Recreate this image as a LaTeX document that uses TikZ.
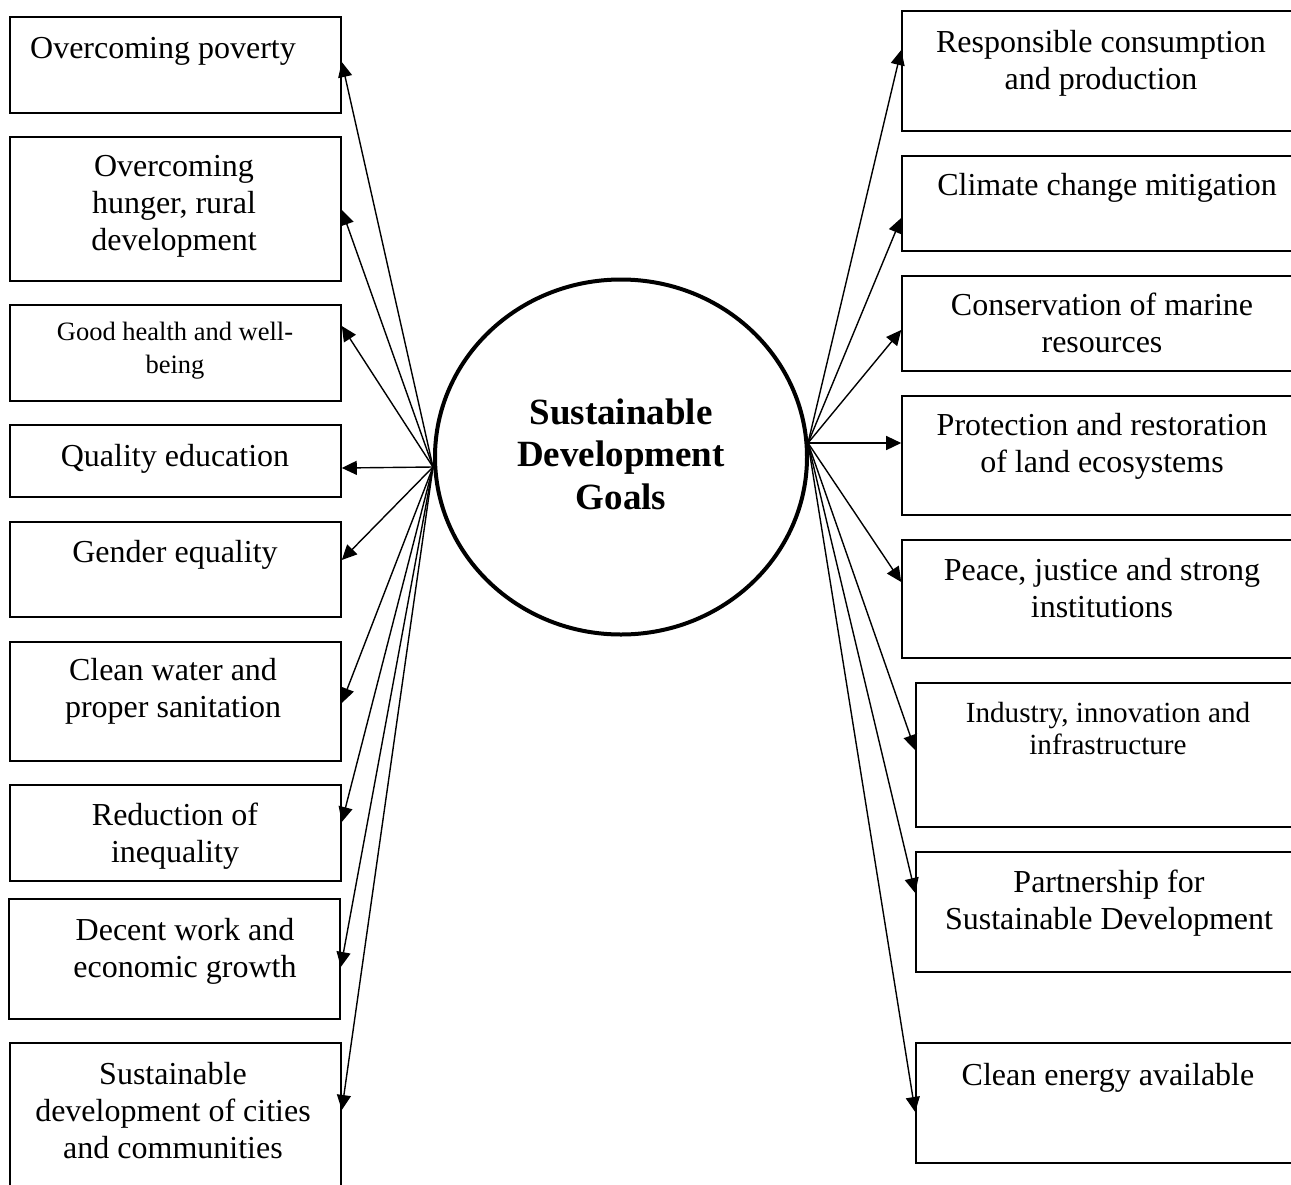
\documentclass[tikz,border=0pt]{standalone}
\usepackage{fontspec}
\setmainfont{Liberation Serif}
\usetikzlibrary{arrows.meta,shapes.geometric}
\begin{document}
\begin{tikzpicture}[x=0.5pt,y=-0.5pt,
  goalbox/.style={draw, line width=0.8pt, rectangle, inner sep=0pt},
  lbl/.style={anchor=north, align=center, inner sep=0pt, font=\fontsize{16}{18.5}\selectfont},
  lblsmall/.style={lbl, font=\fontsize{13.25}{16.5}\selectfont},
  lblmid/.style={lbl, font=\fontsize{14.6}{16}\selectfont},
  conn/.style={line width=0.7pt, -{Triangle[length=7.5pt,width=7pt]}},
  hub/.style={draw, ellipse, line width=2pt, inner sep=0pt, minimum width=186pt, minimum height=177.5pt}
]
\useasboundingbox (0,0) rectangle (1291,1184);

% centre
\node[hub] (c) at (621,457) {};
\node[anchor=north, align=center, inner sep=0pt, font=\fontsize{18.5}{21.25}\selectfont\bfseries] (title) at (621,398) {Sustainable\\Development\\Goals};
\coordinate (sl) at (433,467);
\coordinate (sr) at (808,443);

% left boxes
\node[goalbox, minimum width=165.5pt, minimum height=48pt] (l1) at (175.5,65) {};
\node[goalbox, minimum width=165.5pt, minimum height=72pt] (l2) at (175.5,209) {};
\node[goalbox, minimum width=165.5pt, minimum height=48pt] (l3) at (175.5,353) {};
\node[goalbox, minimum width=165.5pt, minimum height=36pt] (l4) at (175.5,461) {};
\node[goalbox, minimum width=165.5pt, minimum height=47.5pt] (l5) at (175.5,569.5) {};
\node[goalbox, minimum width=165.5pt, minimum height=59.5pt] (l6) at (175.5,701.5) {};
\node[goalbox, minimum width=165.5pt, minimum height=48pt] (l7) at (175.5,833) {};
\node[goalbox, minimum width=165.5pt, minimum height=60pt] (l8) at (174.5,959) {};
\node[goalbox, minimum width=165.5pt, minimum height=78.5pt] (l9) at (175.5,1121.5) {};

% right boxes
\node[goalbox, minimum width=199pt, minimum height=60pt] (r1) at (1101,71) {};
\node[goalbox, minimum width=199pt, minimum height=47.5pt] (r2) at (1101,203.5) {};
\node[goalbox, minimum width=199pt, minimum height=47.5pt] (r3) at (1101,323.5) {};
\node[goalbox, minimum width=199pt, minimum height=59.5pt] (r4) at (1101,455.5) {};
\node[goalbox, minimum width=199pt, minimum height=59pt] (r5) at (1101,599) {};
\node[goalbox, minimum width=192pt, minimum height=72pt] (r6) at (1108,755) {};
\node[goalbox, minimum width=192pt, minimum height=60pt] (r7) at (1108,912) {};
\node[goalbox, minimum width=192pt, minimum height=60pt] (r8) at (1108,1103) {};

% left labels
\node[lbl] (t1) at (163,37) {Overcoming poverty};
\node[lbl] (t2) at (174,155) {Overcoming\\hunger, rural\\development};
\node[lblsmall] (t3) at (175,322) {Good health and well-\\being};
\node[lbl] (t4) at (175,444) {Quality education};
\node[lbl] (t5) at (175,540) {Gender equality};
\node[lbl] (t6) at (173,658) {Clean water and\\proper sanitation};
\node[lbl] (t7) at (175,803) {Reduction of\\inequality};
\node[lbl] (t8) at (185,918) {Decent work and\\economic growth};
\node[lbl] (t9) at (173,1062) {Sustainable\\development of cities\\and communities};

% right labels
\node[lbl] (u1) at (1101,30) {Responsible consumption\\and production};
\node[lbl] (u2) at (1107,173) {Climate change mitigation};
\node[lbl] (u3) at (1102,293) {Conservation of marine\\resources};
\node[lbl] (u4) at (1102,413) {Protection and restoration\\of land ecosystems};
\node[lbl] (u5) at (1102,558) {Peace, justice and strong\\institutions};
\node[lblmid] (u6) at (1108,702) {Industry, innovation and\\infrastructure};
\node[lbl] (u7) at (1109,870) {Partnership for\\Sustainable Development};
\node[lbl] (u8) at (1108,1063) {Clean energy available};

% connectors left
\draw[conn] (sl) -- (l1.east |- 0,62);
\draw[conn] (sl) -- (l2.east |- 0,210);
\draw[conn] (sl) -- (l3.east |- 0,326);
\draw[conn] (sl) -- (l4.east |- 0,468);
\draw[conn] (sl) -- (l5.east |- 0,560);
\draw[conn] (sl) -- (l6.east |- 0,703);
\draw[conn] (sl) -- (l7.east |- 0,822);
\draw[conn] (sl) -- (l8.east |- 0,967);
\draw[conn] (sl) -- (l9.east |- 0,1110);

% connectors right
\draw[conn] (sr) -- (r1.west |- 0,50);
\draw[conn] (sr) -- (r2.west |- 0,218);
\draw[conn] (sr) -- (r3.west |- 0,330);
\draw[conn] (sr) -- (r4.west |- 0,443);
\draw[conn] (sr) -- (r5.west |- 0,582);
\draw[conn] (sr) -- (r6.west |- 0,750);
\draw[conn] (sr) -- (r7.west |- 0,893);
\draw[conn] (sr) -- (r8.west |- 0,1112);
\end{tikzpicture}
\end{document}
